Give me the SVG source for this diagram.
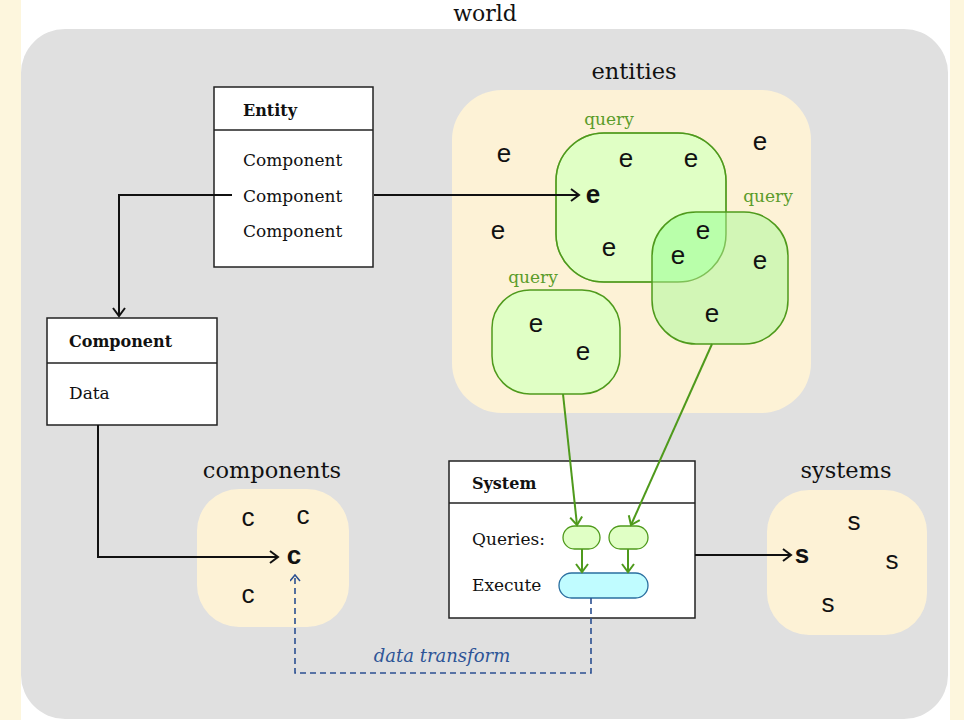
<svg xmlns="http://www.w3.org/2000/svg" width="964" height="720" viewBox="0 0 964 720">
<style>
.serif{font-family:"DejaVu Serif","Liberation Serif",serif}
.h{font-size:22.5px;fill:#111;text-anchor:middle}
.b{font-size:16px;font-weight:bold;fill:#111}
.t{font-size:17px;fill:#111}
.q{font-size:17px;fill:#5a9c2a;text-anchor:middle}
.box{fill:#fff;stroke:#222;stroke-width:1.5}
.cream{fill:#fdf2d6}
.L{font-family:"Liberation Sans",Arial,sans-serif;font-size:26px;fill:#111;text-anchor:middle}
.Lb{font-weight:bold}
.qs{stroke:#4f9a1c;stroke-width:1.5}
.blk{fill:none;stroke:#111;stroke-width:2}
.grn{fill:none;stroke:#4f9a1c;stroke-width:2}
.blu{fill:none;stroke:#2b4f91;stroke-width:1.6;stroke-dasharray:6 4}
</style>
<defs>
<marker id="ab" markerUnits="userSpaceOnUse" markerWidth="14" markerHeight="16" refX="10" refY="7" orient="auto"><path d="M2,1 L10,7 L2,13" fill="none" stroke="#111" stroke-width="2"/></marker>
<marker id="ag" markerUnits="userSpaceOnUse" markerWidth="14" markerHeight="16" refX="10" refY="7" orient="auto"><path d="M2,1 L10,7 L2,13" fill="none" stroke="#4f9a1c" stroke-width="2"/></marker>
<marker id="al" markerUnits="userSpaceOnUse" markerWidth="12" markerHeight="12" refX="7" refY="5" orient="auto"><path d="M1,0 L7,5 L1,10" fill="none" stroke="#2b4f91" stroke-width="1.5"/></marker>
<clipPath id="q1clip"><rect x="556" y="133" width="170" height="149" rx="48"/></clipPath>
</defs>
<rect width="964" height="720" fill="#fdf6dd"/>
<rect x="21" y="0" width="929" height="720" fill="#fff"/>
<g id="world">
<rect x="21" y="29" width="927" height="690" rx="44" fill="#e0e0e0"/>
<text class="serif" x="485" y="21" font-size="22" fill="#111" text-anchor="middle">world</text>
</g>
<g id="entities">
<rect class="cream" x="452" y="90" width="359" height="323" rx="50"/>
<text class="serif h" x="634" y="79">entities</text>
</g>
<g id="query1">
<rect x="556" y="133" width="170" height="149" rx="48" fill="#e0ffc5" class="qs"/>
<text class="serif q" x="609" y="125">query</text>
</g>
<g id="query2">
<rect x="652" y="212" width="136" height="132" rx="44" fill="#d2f6b6"/>
<rect x="652" y="212" width="136" height="132" rx="44" fill="#b9ffaa" clip-path="url(#q1clip)"/>
<rect x="556" y="133" width="170" height="149" rx="48" fill="none" class="qs" opacity="0.6"/>
<rect x="652" y="212" width="136" height="132" rx="44" fill="none" class="qs"/>
<text class="serif q" x="768" y="202">query</text>
</g>
<g id="query3">
<rect x="492" y="290" width="128" height="104" rx="38" fill="#e0ffc5" class="qs"/>
<text class="serif q" x="533" y="283">query</text>
</g>
<g id="entity-items">
<text class="L" x="504" y="162">e</text>
<text class="L" x="626" y="167">e</text>
<text class="L" x="691" y="167">e</text>
<text class="L" x="760" y="150">e</text>
<text class="L Lb" x="593" y="203">e</text>
<text class="L" x="498" y="239">e</text>
<text class="L" x="609" y="256">e</text>
<text class="L" x="703" y="239">e</text>
<text class="L" x="678" y="264">e</text>
<text class="L" x="760" y="269">e</text>
<text class="L" x="712" y="322">e</text>
<text class="L" x="536" y="332">e</text>
<text class="L" x="583" y="360">e</text>
</g>
<g id="entity">
<rect class="box" x="214" y="87" width="159" height="180"/>
<line x1="214" y1="130" x2="373" y2="130" stroke="#222" stroke-width="1.5"/>
<text class="serif b" x="243" y="116">Entity</text>
<text class="serif t" x="243" y="166">Component</text>
<text class="serif t" x="243" y="202">Component</text>
<text class="serif t" x="243" y="237">Component</text>
</g>
<g id="component">
<rect class="box" x="47" y="318" width="170" height="107"/>
<line x1="47" y1="363" x2="217" y2="363" stroke="#222" stroke-width="1.5"/>
<text class="serif b" x="69" y="347">Component</text>
<text class="serif t" x="69" y="399">Data</text>
</g>
<g id="components">
<rect class="cream" x="197" y="489" width="152" height="138" rx="42"/>
<text class="serif h" x="272" y="478">components</text>
<text class="L" x="248" y="526">c</text>
<text class="L" x="303" y="524">c</text>
<text class="L Lb" x="294" y="564">c</text>
<text class="L" x="248" y="603">c</text>
</g>
<g id="systems">
<rect class="cream" x="767" y="490" width="160" height="145" rx="42"/>
<text class="serif h" x="846" y="478">systems</text>
<text class="L" x="854" y="530">s</text>
<text class="L Lb" x="802" y="563">s</text>
<text class="L" x="892" y="569">s</text>
<text class="L" x="828" y="612">s</text>
</g>
<g id="system">
<rect class="box" x="449" y="461" width="246" height="157"/>
<line x1="449" y1="503" x2="695" y2="503" stroke="#222" stroke-width="1.5"/>
<text class="serif b" x="472" y="489">System</text>
<text class="serif t" x="472" y="545">Queries:</text>
<text class="serif t" x="472" y="591">Execute</text>
<rect x="563" y="526" width="37" height="23" rx="11.5" fill="#e0ffc5" stroke="#4f9a1c" stroke-width="1.3"/>
<rect x="609" y="526" width="39" height="23" rx="11.5" fill="#e0ffc5" stroke="#4f9a1c" stroke-width="1.3"/>
<rect x="559" y="573" width="89" height="25" rx="12.5" fill="#c0fcff" stroke="#2a6fa0" stroke-width="1.3"/>
</g>
<g id="connectors">
<path class="blk" d="M232,195 H119 V316" marker-end="url(#ab)"/>
<path class="blk" d="M374,195 H579" marker-end="url(#ab)"/>
<path class="blk" d="M98,425 V557 H278" marker-end="url(#ab)"/>
<path class="blk" d="M695,555 H791" marker-end="url(#ab)"/>
<path class="grn" d="M563,394 L577,525" marker-end="url(#ag)"/>
<path class="grn" d="M712,344 L631,525" marker-end="url(#ag)"/>
<path class="grn" d="M582,549 V572" marker-end="url(#ag)"/>
<path class="grn" d="M628,549 V572" marker-end="url(#ag)"/>
<path class="blu" d="M591,598 V673 H295 V575" marker-end="url(#al)"/>
<text class="serif" x="442" y="662" font-size="18" font-style="italic" fill="#2e5597" text-anchor="middle">data transform</text>
</g>
</svg>
